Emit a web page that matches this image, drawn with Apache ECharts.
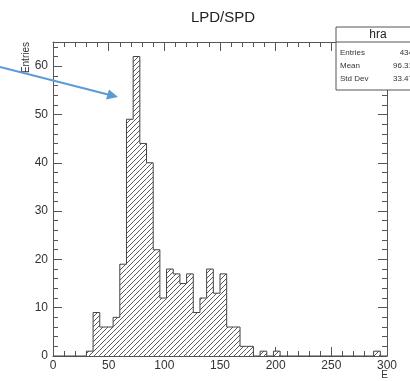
<!DOCTYPE html>
<html>
<head>
<meta charset="utf-8">
<script src="https://cdn.jsdelivr.net/npm/echarts@6/dist/echarts.min.js"></script>
<style>html,body{margin:0;padding:0;background:#fff}#c{width:410px;height:381px}</style>
</head>
<body>
<div id="c"></div>
<script>
// Histogram definition
const xMin = 0, xMax = 300, nBins = 50;
const counts = [
  0, 0, 0, 0, 0, 1, 9, 6, 6, 8,
  19, 49, 62, 44, 40, 22, 12, 18, 17, 15,
  17, 9, 12, 18, 13, 17, 6, 6, 2, 2,
  0, 1, 0, 1, 0, 0, 0, 0, 0, 0,
  0, 0, 0, 0, 0, 0, 0, 0, 1, 0
];
const xTicks = [0, 50, 100, 150, 200, 250, 300];
const yTicks = [0, 10, 20, 30, 40, 50, 60];
const title = 'LPD/SPD';
const statsName = 'hra';
const statsLabels = ['Entries', 'Mean', 'Std Dev'];
const statsValues = ['434', '96.31', '33.47'];

const binW = (xMax - xMin) / nBins;
const rects = counts.map((c, i) => [xMin + i * binW, xMin + (i + 1) * binW, c]);
const outline = counts.map((c, i) => [xMin + i * binW, c]);
outline.push([xMax, counts[counts.length - 1]]);
outline.push([xMax, 0]);

// hatch pattern
const tile = document.createElement('canvas');
const s = 5;
tile.width = s; tile.height = s;
const tc = tile.getContext('2d');
tc.fillStyle = '#fff'; tc.fillRect(0, 0, s, s);
tc.strokeStyle = '#5a5a5a'; tc.lineWidth = 1;
tc.beginPath();
tc.moveTo(-1, s + 1); tc.lineTo(s + 1, -1);
tc.moveTo(-1, 1); tc.lineTo(1, -1);
tc.moveTo(s - 1, s + 1); tc.lineTo(s + 1, s - 1);
tc.stroke();
const hatch = { image: tile, repeat: 'repeat' };

const chart = echarts.init(document.getElementById('c'), null, { renderer: 'canvas' });
const axisCol = '#555';
const font = 'Liberation Sans, Arial, sans-serif';
const gridL = 53, gridR = 23, gridT = 42, gridB = 25;

function mkX(pos, labels) {
  return {
    type: 'value', position: pos, min: xMin, max: xMax, interval: 50,
    axisLine: { show: true, onZero: false, lineStyle: { color: axisCol, width: 1 } },
    axisTick: { show: true, inside: true, length: 9, lineStyle: { color: axisCol } },
    minorTick: { show: true, splitNumber: 5, length: 5, lineStyle: { color: axisCol } },
    splitLine: { show: false },
    axisLabel: { show: labels, color: '#333', fontSize: 12, fontFamily: font, margin: 4,
      formatter: v => xTicks.includes(v) ? String(v) : '' }
  };
}
function mkY(pos, labels) {
  return {
    type: 'value', position: pos, min: 0, max: 65, interval: 10,
    axisLine: { show: true, onZero: false, lineStyle: { color: axisCol, width: 1 } },
    axisTick: { show: true, inside: true, length: 9, lineStyle: { color: axisCol } },
    minorTick: { show: true, splitNumber: 5, length: 5, lineStyle: { color: axisCol } },
    splitLine: { show: false },
    axisLabel: { show: labels, color: '#333', fontSize: 12, fontFamily: font, margin: 5,
      formatter: v => yTicks.includes(v) ? String(v) : '' }
  };
}

const statsX = 336, statsY = 27, statsW = 82, statsH = 63;

chart.setOption({
  animation: false,
  backgroundColor: '#fff',
  title: { text: title, left: 218, top: 5, textAlign: 'center',
    textStyle: { fontFamily: font, fontSize: 15, fontWeight: 'normal', color: '#222' } },
  grid: { left: gridL, right: gridR, top: gridT, bottom: gridB },
  xAxis: [mkX('bottom', true), mkX('top', false)],
  yAxis: [mkY('left', true), mkY('right', false)],
  series: [
    {
      type: 'custom', xAxisIndex: 0, yAxisIndex: 0,
      data: rects,
      encode: { x: [0, 1], y: 2 },
      renderItem: function (params, api) {
        const v = api.value(2);
        if (!v) return null;
        const p0 = api.coord([api.value(0), v]);
        const p1 = api.coord([api.value(1), 0]);
        return { type: 'rect',
          shape: { x: p0[0], y: p0[1], width: p1[0] - p0[0], height: p1[1] - p0[1] },
          style: { fill: hatch } };
      }
    },
    {
      type: 'line', xAxisIndex: 0, yAxisIndex: 0,
      data: outline, step: 'end', symbol: 'none',
      lineStyle: { color: '#444', width: 1 }
    }
  ],
  graphic: [
    { type: 'text', left: 21, top: 42, rotation: Math.PI / 2,
      style: { text: 'Entries', fontSize: 10, fontFamily: font, fill: '#333' } },
    { type: 'text', right: 22, bottom: 1,
      style: { text: 'E', fontSize: 10, fontFamily: font, fill: '#333' } },
    { type: 'rect', shape: { x: statsX, y: statsY, width: statsW, height: statsH },
      style: { fill: '#fff', stroke: '#555', lineWidth: 1 }, z: 10 },
    { type: 'line', shape: { x1: statsX, y1: statsY + 15, x2: statsX + statsW, y2: statsY + 15 },
      style: { stroke: '#555', lineWidth: 1 }, z: 11 },
    { type: 'text', x: 378, y: statsY + 8, z: 11,
      style: { text: statsName, fontSize: 12, fontFamily: font, fill: '#222', align: 'center', verticalAlign: 'middle' } },
    ...statsLabels.map((t, i) => ({ type: 'text', x: 340, y: statsY + 26 + i * 13, z: 11,
      style: { text: t, fontSize: 8, fontFamily: font, fill: '#333', verticalAlign: 'middle' } })),
    ...statsValues.map((t, i) => ({ type: 'text', x: 413, y: statsY + 26 + i * 13, z: 11,
      style: { text: t, fontSize: 8, fontFamily: font, fill: '#333', align: 'right', verticalAlign: 'middle' } })),
    { type: 'line', shape: { x1: 0, y1: 67, x2: 110, y2: 95 },
      style: { stroke: '#5b9bd5', lineWidth: 2 }, z: 12 },
    { type: 'polygon', shape: { points: [[118, 97], [106, 99.5], [109, 89.5]] },
      style: { fill: '#5b9bd5' }, z: 12 }
  ]
});
</script>
</body>
</html>
